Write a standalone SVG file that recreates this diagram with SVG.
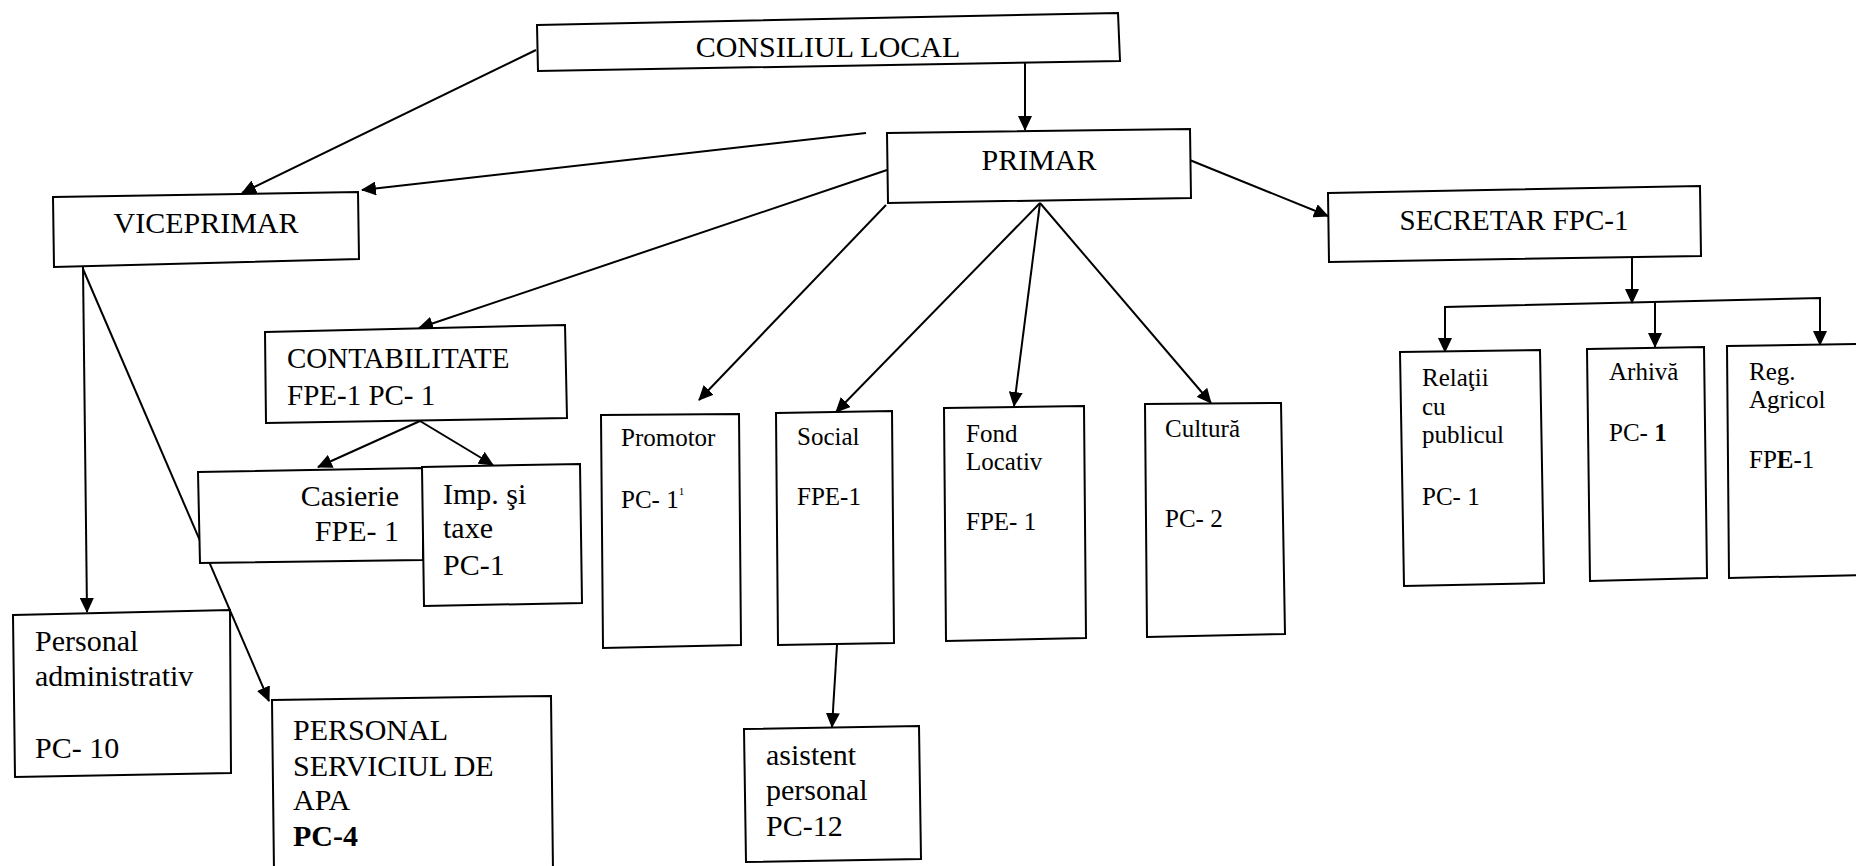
<svg xmlns="http://www.w3.org/2000/svg" width="1856" height="866" viewBox="0 0 1856 866">
<style>
.box{fill:#fff;stroke:#000;stroke-width:2}
.t{font-family:"Liberation Serif","Times New Roman",serif;fill:#000}
.big{font-size:30px}
.mid{font-size:29px}
.sm{font-size:25px}
.c{stroke:#000;stroke-width:2;fill:none}
</style>
<defs>
<marker id="ah" markerUnits="userSpaceOnUse" markerWidth="16" markerHeight="14" refX="14" refY="7" orient="auto">
<path d="M0,0 L15,7 L0,14 Z" fill="#000"/>
</marker>
</defs>
<rect width="1856" height="866" fill="#fff"/>

<g id="connectors">
<line class="c" x1="536" y1="50" x2="242" y2="193" marker-end="url(#ah)"/>
<line class="c" x1="866" y1="133" x2="362" y2="190" marker-end="url(#ah)"/>
<line class="c" x1="1025" y1="62" x2="1025" y2="130" marker-end="url(#ah)"/>
<line class="c" x1="1165" y1="150" x2="1328" y2="216" marker-end="url(#ah)"/>
<line class="c" x1="887" y1="170" x2="419" y2="328" marker-end="url(#ah)"/>
<line class="c" x1="886" y1="205" x2="699" y2="400" marker-end="url(#ah)"/>
<line class="c" x1="1040" y1="203" x2="836" y2="412" marker-end="url(#ah)"/>
<line class="c" x1="1040" y1="203" x2="1014" y2="406" marker-end="url(#ah)"/>
<line class="c" x1="1040" y1="203" x2="1211" y2="403" marker-end="url(#ah)"/>
<line class="c" x1="420" y1="421" x2="318" y2="467" marker-end="url(#ah)"/>
<line class="c" x1="420" y1="421" x2="493" y2="465" marker-end="url(#ah)"/>
<line class="c" x1="83" y1="267" x2="87" y2="612" marker-end="url(#ah)"/>
<line class="c" x1="83" y1="269" x2="269" y2="701" marker-end="url(#ah)"/>
<line class="c" x1="837" y1="645" x2="832" y2="727" marker-end="url(#ah)"/>
<line class="c" x1="1632" y1="257" x2="1632" y2="303" marker-end="url(#ah)"/>
<polyline class="c" points="1445,352 1445,307 1820,298 1820,300"/>
<line class="c" x1="1445" y1="307" x2="1445" y2="352" marker-end="url(#ah)"/>
<line class="c" x1="1655" y1="302" x2="1655" y2="347" marker-end="url(#ah)"/>
<line class="c" x1="1820" y1="298" x2="1820" y2="345" marker-end="url(#ah)"/>
</g>

<g id="consiliul">
<polygon class="box" points="537,25 1118,13 1120,61 538,71"/>
<text class="t big" x="828" y="57" text-anchor="middle">CONSILIUL LOCAL</text>
</g>

<g id="primar">
<polygon class="box" points="887,133 1190,129 1191,198 888,203"/>
<text class="t big" x="1039" y="170" text-anchor="middle">PRIMAR</text>
</g>

<g id="viceprimar">
<polygon class="box" points="53,197 358,192 359,259 54,267"/>
<text class="t big" x="206" y="233" text-anchor="middle">VICEPRIMAR</text>
</g>

<g id="secretar">
<polygon class="box" points="1328,193 1700,186 1701,256 1329,262"/>
<text class="t mid" x="1514" y="230" text-anchor="middle">SECRETAR FPC-1</text>
</g>

<g id="contabilitate">
<polygon class="box" points="265,332 565,325 567,418 266,423"/>
<text class="t mid" x="287" y="368">CONTABILITATE</text>
<text class="t mid" x="287" y="405">FPE-1 PC- 1</text>
</g>

<g id="casierie">
<polygon class="box" points="198,472 423,468 423,560 200,563"/>
<text class="t big" x="399" y="506" text-anchor="end">Casierie</text>
<text class="t big" x="399" y="541" text-anchor="end">FPE- 1</text>
</g>

<g id="impozite">
<polygon class="box" points="422,467 580,464 582,603 424,606"/>
<text class="t big" x="443" y="504">Imp. şi</text>
<text class="t big" x="443" y="538">taxe</text>
<text class="t big" x="443" y="575">PC-1</text>
</g>

<g id="personal-administrativ">
<polygon class="box" points="13,615 230,610 231,773 15,777"/>
<text class="t big" x="35" y="651">Personal</text>
<text class="t big" x="35" y="686">administrativ</text>
<text class="t big" x="35" y="758">PC- 10</text>
</g>

<g id="personal-apa">
<polygon class="box" points="272,700 551,696 553,872 274,872"/>
<text class="t big" x="293" y="740">PERSONAL</text>
<text class="t big" x="293" y="776">SERVICIUL DE</text>
<text class="t big" x="293" y="810">APA</text>
<text class="t big" x="293" y="846" font-weight="bold">PC-4</text>
</g>

<g id="promotor">
<polygon class="box" points="601,415 739,414 741,645 603,648"/>
<text class="t sm" x="621" y="446">Promotor</text>
<text class="t sm" x="621" y="508">PC- 1<tspan font-size="11" dy="-13">1</tspan></text>
</g>

<g id="social">
<polygon class="box" points="776,413 892,411 894,643 778,645"/>
<text class="t sm" x="797" y="445">Social</text>
<text class="t sm" x="797" y="505">FPE-1</text>
</g>

<g id="asistent">
<polygon class="box" points="744,729 919,726 921,859 746,862"/>
<text class="t big" x="766" y="765">asistent</text>
<text class="t big" x="766" y="800">personal</text>
<text class="t big" x="766" y="836">PC-12</text>
</g>

<g id="fond-locativ">
<polygon class="box" points="944,408 1084,406 1086,638 946,641"/>
<text class="t sm" x="966" y="442">Fond</text>
<text class="t sm" x="966" y="470">Locativ</text>
<text class="t sm" x="966" y="530">FPE- 1</text>
</g>

<g id="cultura">
<polygon class="box" points="1145,404 1281,403 1285,634 1147,637"/>
<text class="t sm" x="1165" y="437">Cultură</text>
<text class="t sm" x="1165" y="527">PC- 2</text>
</g>

<g id="relatii">
<polygon class="box" points="1400,352 1540,350 1544,583 1404,586"/>
<text class="t sm" x="1422" y="386">Relaţii</text>
<text class="t sm" x="1422" y="415">cu</text>
<text class="t sm" x="1422" y="443">publicul</text>
<text class="t sm" x="1422" y="505">PC- 1</text>
</g>

<g id="arhiva">
<polygon class="box" points="1587,349 1704,347 1707,578 1590,581"/>
<text class="t sm" x="1609" y="380">Arhivă</text>
<text class="t sm" x="1609" y="441">PC- <tspan font-weight="bold">1</tspan></text>
</g>

<g id="registru-agricol">
<polygon class="box" points="1727,346 1862,344 1862,575 1729,578"/>
<text class="t sm" x="1749" y="380">Reg.</text>
<text class="t sm" x="1749" y="408">Agricol</text>
<text class="t sm" x="1749" y="468">FP<tspan font-weight="bold">E</tspan>-1</text>
</g>
</svg>
